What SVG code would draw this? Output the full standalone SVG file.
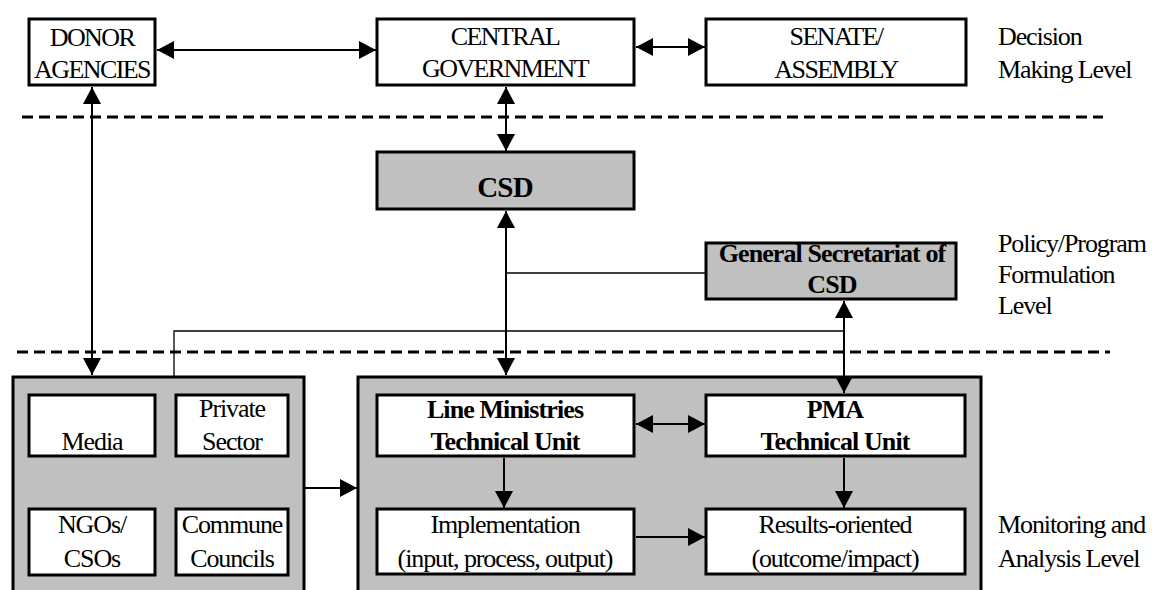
<svg xmlns="http://www.w3.org/2000/svg" width="1152" height="590" viewBox="0 0 1152 590">
<defs>
<marker id="ah" markerUnits="userSpaceOnUse" markerWidth="18" markerHeight="18" refX="17" refY="9" orient="auto-start-reverse">
<path d="M0,0 L17,9 L0,18 Z" fill="#000"/>
</marker>
</defs>
<style>
text{font-family:'Liberation Serif','Times New Roman',Times,serif;font-size:26px;letter-spacing:-1.1px;fill:#000}
.c{text-anchor:middle}
.u{letter-spacing:-1.6px}
.b{font-weight:bold;letter-spacing:-0.9px}
.box{fill:#fff;stroke:#000;stroke-width:3}
.gbox{fill:#c0c0c0;stroke:#000;stroke-width:3}
.dash{stroke:#000;stroke-width:3;stroke-dasharray:11 6;fill:none}
.ln{stroke:#000;stroke-width:2;fill:none}
.thin{stroke:#000;stroke-width:1.3;fill:none}
.a2{marker-start:url(#ah);marker-end:url(#ah)}
.a1{marker-end:url(#ah)}
</style>
<rect width="1152" height="590" fill="#fff"/>
<g id="levels">
<line class="dash" x1="22" y1="117" x2="1103" y2="117"/>
<line class="dash" x1="17" y1="352" x2="1110" y2="352"/>
<text x="998" y="45">Decision</text>
<text x="998" y="78">Making Level</text>
<text x="998" y="252">Policy/Program</text>
<text x="998" y="283">Formulation</text>
<text x="998" y="314">Level</text>
<text x="998" y="533">Monitoring and</text>
<text x="998" y="567">Analysis Level</text>
</g>

<g id="donor">
<rect class="box" x="29" y="19" width="126" height="66"/>
<text class="c u" x="92" y="46">DONOR</text>
<text class="c u" x="92" y="78">AGENCIES</text>
</g>
<g id="central">
<rect class="box" x="377" y="19" width="257" height="66"/>
<text class="c u" x="505" y="45">CENTRAL</text>
<text class="c u" x="505" y="77">GOVERNMENT</text>
</g>
<g id="senate">
<rect class="box" x="706" y="19" width="260" height="66"/>
<text class="c u" x="836" y="45">SENATE/</text>
<text class="c u" x="836" y="78">ASSEMBLY</text>
</g>
<g id="csd">
<rect class="gbox" x="377" y="152" width="257" height="57"/>
<text class="c b" x="505" y="197" style="font-size:29px;letter-spacing:-0.8px">CSD</text>
</g>
<g id="gs">
<rect class="gbox" x="706" y="243" width="250" height="56"/>
<text class="c b" x="832" y="262">General Secretariat of</text>
<text class="c b" x="832" y="293">CSD</text>
</g>

<g id="civil">
<rect class="gbox" x="13" y="377" width="291" height="243"/>
<g id="media">
<rect class="box" x="29" y="395" width="126" height="61"/>
<text class="c" x="92" y="450">Media</text>
</g>
<g id="private">
<rect class="box" x="176" y="395" width="112" height="61"/>
<text class="c" x="232" y="417">Private</text>
<text class="c" x="232" y="450">Sector</text>
</g>
<g id="ngos">
<rect class="box" x="29" y="509" width="126" height="66"/>
<text class="c" x="92" y="533">NGOs/</text>
<text class="c" x="92" y="567">CSOs</text>
</g>
<g id="commune">
<rect class="box" x="176" y="509" width="112" height="66"/>
<text class="c" x="232" y="533">Commune</text>
<text class="c" x="232" y="567">Councils</text>
</g>
</g>

<g id="gov">
<rect class="gbox" x="358" y="377" width="623" height="243"/>
<g id="lm">
<rect class="box" x="377" y="395" width="257" height="61"/>
<text class="c b" x="505" y="418">Line Ministries</text>
<text class="c b" x="505" y="450">Technical Unit</text>
</g>
<g id="pma">
<rect class="box" x="706" y="395" width="259" height="61"/>
<text class="c b" x="835" y="418">PMA</text>
<text class="c b" x="835" y="450">Technical Unit</text>
</g>
<g id="impl">
<rect class="box" x="377" y="509" width="257" height="65"/>
<text class="c" x="505" y="533">Implementation</text>
<text class="c" x="505" y="567">(input, process, output)</text>
</g>
<g id="results">
<rect class="box" x="706" y="509" width="259" height="65"/>
<text class="c" x="835" y="533">Results-oriented</text>
<text class="c" x="835" y="567">(outcome/impact)</text>
</g>
</g>

<g id="connectors">
<line class="ln a2" x1="157" y1="50" x2="376" y2="50"/>
<line class="ln a2" x1="636" y1="47" x2="705" y2="47"/>
<line class="ln a2" x1="506" y1="87" x2="506" y2="151"/>
<line class="ln a2" x1="92" y1="87" x2="92" y2="375"/>
<line class="ln a2" x1="506" y1="211" x2="506" y2="375"/>
<line class="thin" x1="506" y1="273" x2="705" y2="273"/>
<polyline class="thin" points="174,376 174,331 844,331"/>
<line class="ln a2" x1="844" y1="301" x2="844" y2="393"/>
<line class="ln a1" x1="305" y1="488" x2="357" y2="488"/>
<line class="ln a2" x1="636" y1="424" x2="705" y2="424"/>
<line class="ln a1" x1="504" y1="458" x2="504" y2="508"/>
<line class="ln a1" x1="844" y1="458" x2="844" y2="508"/>
<line class="ln a1" x1="636" y1="537" x2="705" y2="537"/>
</g>
</svg>
